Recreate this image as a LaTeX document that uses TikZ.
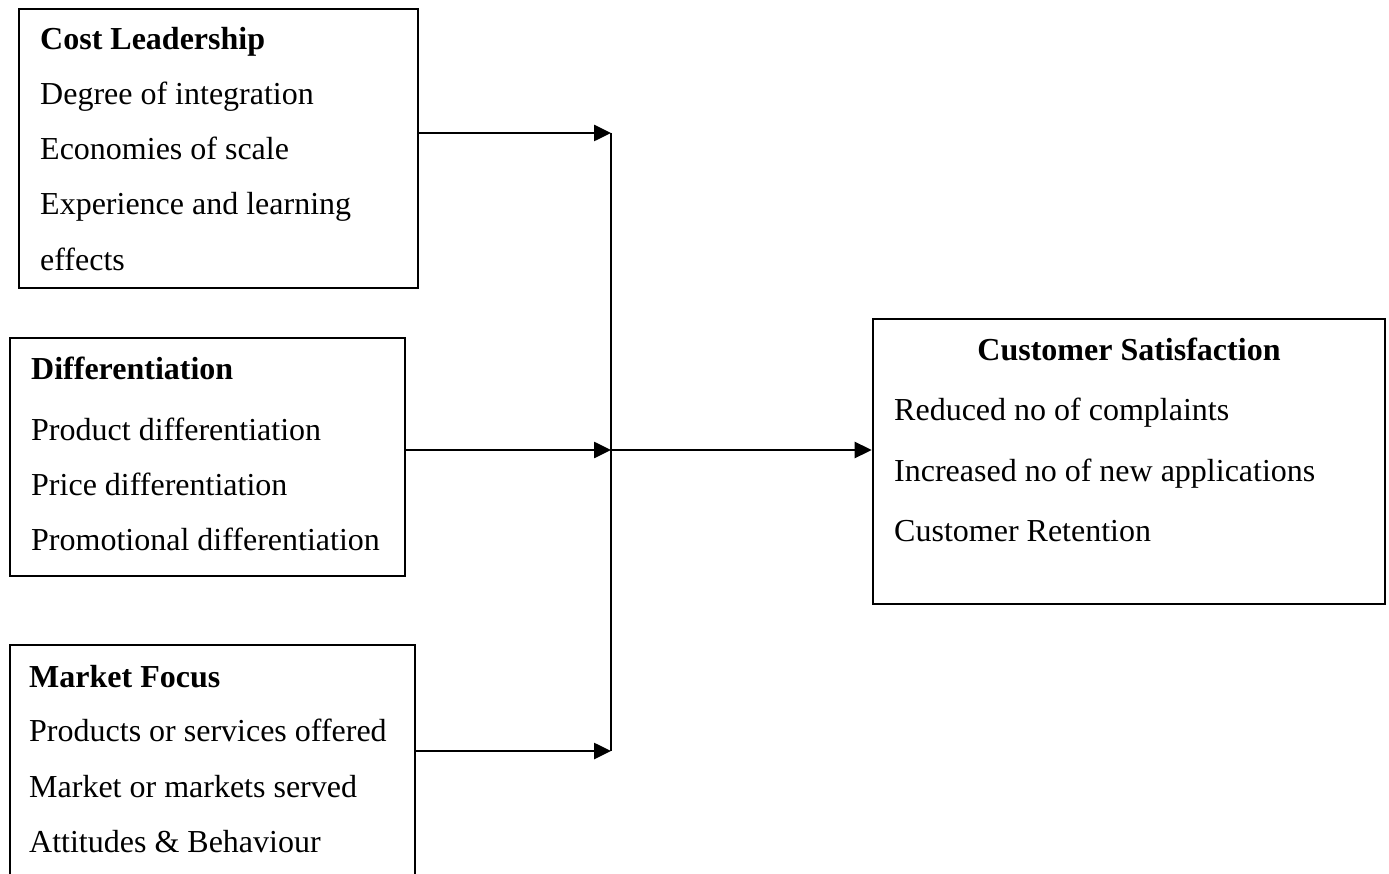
\documentclass[tikz,border=0pt]{standalone}
\usepackage{fontspec}
\setmainfont{Liberation Serif}
\usetikzlibrary{arrows.meta}
\begin{document}
\begin{tikzpicture}[x=1pt,y=-1pt,
  box/.style={draw=black, line width=2.6pt, inner sep=0pt, fill=none},
  txt/.style={inner sep=0pt, anchor=base west, font=\fontsize{32}{38}\selectfont},
  ttl/.style={txt, font=\fontsize{32}{38}\selectfont\bfseries},
  arr/.style={line width=2.6pt, -{Triangle[length=17pt,width=16pt]}},
  vline/.style={line width=1.2pt}]
\useasboundingbox (0,0) rectangle (1389,874);
\clip (0,0) rectangle (1389,874);
% boxes
\node[box, minimum width=399pt, minimum height=279pt] (cost) at (218.5,148.5) {};
\node[box, minimum width=395pt, minimum height=238pt] (diff) at (207.5,457) {};
\node[box, minimum width=405pt, minimum height=300pt] (mkt) at (212.5,795) {};
\node[box, minimum width=512pt, minimum height=285pt] (cs) at (1129,461.5) {};
% texts
\node[ttl] (c0) at (40,50) {Cost Leadership};
\node[txt] (c1) at (40,105) {Degree of integration};
\node[txt] (c2) at (40,160) {Economies of scale};
\node[txt] (c3) at (40,215) {Experience and learning};
\node[txt] (c4) at (40,271) {effects};
\node[ttl] (d0) at (31,380) {Differentiation};
\node[txt] (d1) at (31,440) {Product differentiation};
\node[txt] (d2) at (31,495) {Price differentiation};
\node[txt] (d3) at (31,550) {Promotional differentiation};
\node[ttl] (m0) at (29,687) {Market Focus};
\node[txt] (m1) at (29,741) {Products or services offered};
\node[txt] (m2) at (29,797) {Market or markets served};
\node[txt] (m3) at (29,852) {Attitudes \& Behaviour};
\node[ttl, anchor=base] (s0) at (1129,361) {Customer Satisfaction};
\node[txt] (s1) at (894,420) {Reduced no of complaints};
\node[txt] (s2) at (894,481) {Increased no of new applications};
\node[txt] (s3) at (894,541) {Customer Retention};
% connectors
\coordinate (j1) at (611,133);
\coordinate (j2) at (611,450);
\coordinate (j3) at (611,751);
\draw[vline] (j1) -- (j3);
\draw[arr] (cost.east |- j1) -- (j1);
\draw[arr] (diff.east |- j2) -- (j2);
\draw[arr] (mkt.east |- j3) -- (j3);
\draw[arr] (j2) -- (cs.west |- j2);
\end{tikzpicture}
\end{document}
